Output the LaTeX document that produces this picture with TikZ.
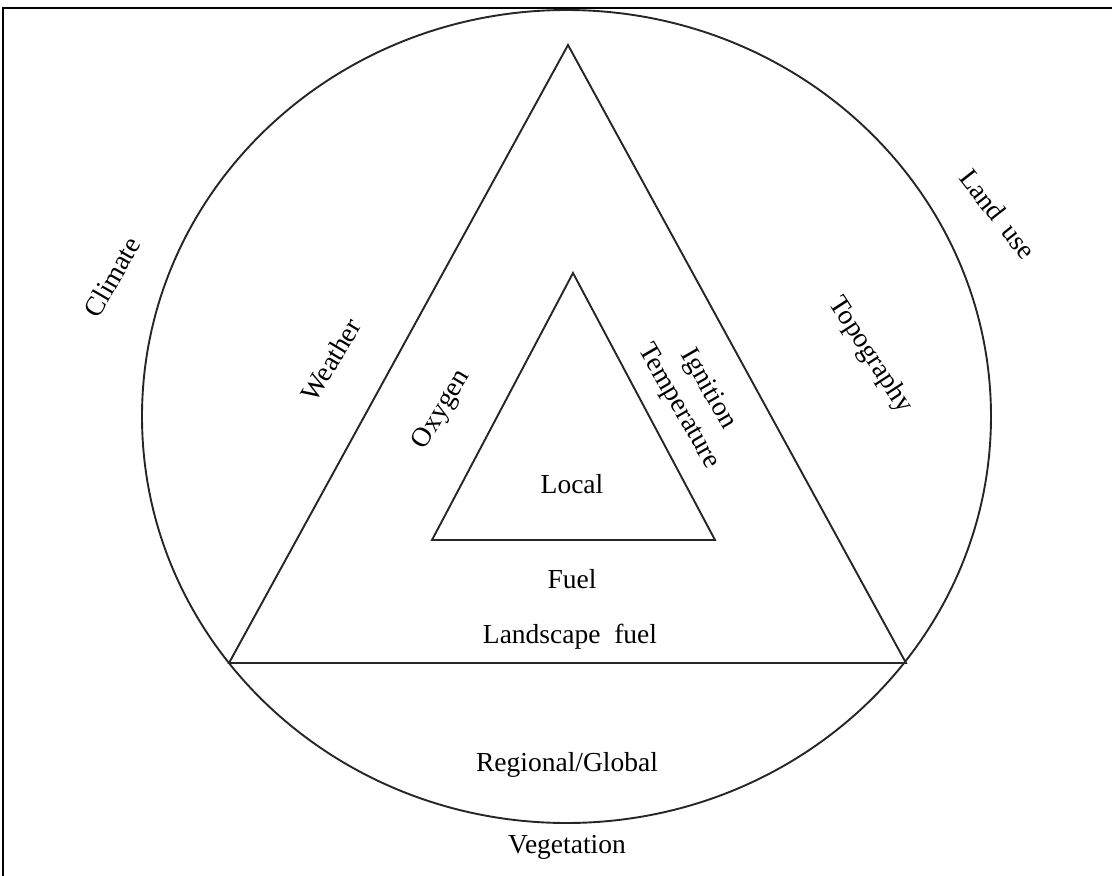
\documentclass[tikz,border=0pt]{standalone}
\usepackage{fontspec}
\setmainfont{Liberation Serif}
\usetikzlibrary{positioning,calc}

\begin{document}
\begin{tikzpicture}[
    x=1pt,y=-1pt,
    edge/.style={line width=1.9pt,black!85,line join=miter},
    lbl/.style={font=\fontsize{27.5}{34}\selectfont,inner sep=0pt,align=center}
]
\useasboundingbox (0,0) rectangle (1112,876);
\clip (0,0) rectangle (1112,876);
% frame
\draw[line width=2pt] (3,8) rectangle (1130,900);

% outer ring and triangles
\coordinate (ctr) at (566.5,416.5);
\draw[edge] (ctr) ellipse [x radius=424.5, y radius=406.5];

\coordinate (topA) at (568,45);
\coordinate (leftA) at (229,663);
\coordinate (rightA) at (906,663);
\draw[edge] (topA) -- (leftA) -- (rightA) -- cycle;

\coordinate (topB) at (573,273);
\coordinate (leftB) at (432,540);
\coordinate (rightB) at (715,540);
\draw[edge] (topB) -- (leftB) -- (rightB) -- cycle;

% labels
\node[lbl,rotate=60] (climate) at (112,277) {Climate};
\node[lbl,rotate=-52] (landuse) at (998,214) {Land\hspace{0.45em}use};
\node[lbl,rotate=59] (weather) at (331,360) {Weather};
\node[lbl,rotate=-57] (topo) at (870,355) {Topography};
\node[lbl,rotate=59] (oxygen) at (442,410) {Oxygen};
\node[lbl,rotate=-60] (ignition) at (693,398) {Ignition\\Temperature};
\node[lbl] (local) at (572,484) {Local};
\node[lbl] (fuel) at (572,579) {Fuel};
\node[lbl] (landfuel) at (570,637) {Landscape~ fuel};
\node[lbl] (region) at (567,765) {Regional/Global};
\node[lbl] (veg) at (567,847) {Vegetation};
\end{tikzpicture}
\end{document}
